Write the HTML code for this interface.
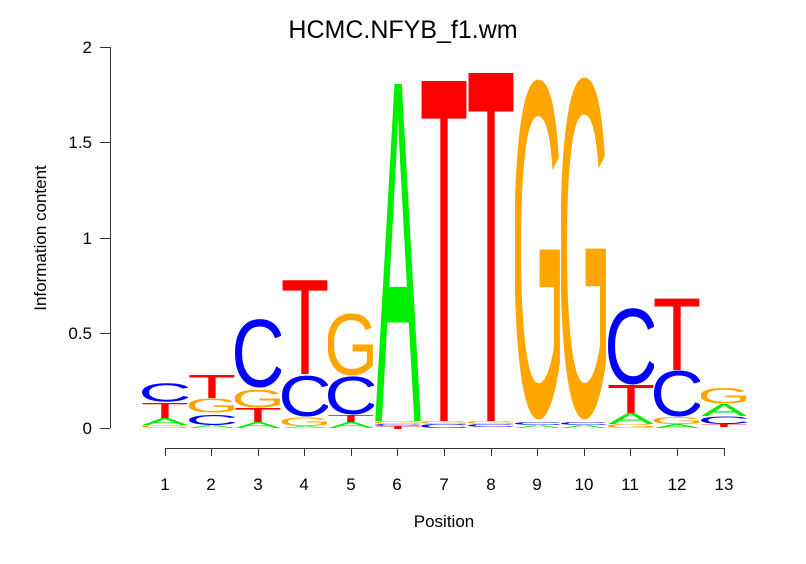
<!DOCTYPE html>
<html><head><meta charset="utf-8"><style>
body{margin:0;background:#fff}
text{font-family:"Liberation Sans",sans-serif}
.l text{font-weight:normal;font-size:100px;text-anchor:middle}
</style></head><body>
<svg width="806" height="559" viewBox="0 0 806 559" xmlns="http://www.w3.org/2000/svg">
<defs>
<symbol id="A" viewBox="-33.5 -69 67 69" preserveAspectRatio="none" class="l"><text x="0" y="0" fill="#00ee00">A</text></symbol>
<symbol id="C" viewBox="-31 -71 62 72.5" preserveAspectRatio="none" class="l"><text x="0" y="0" fill="#0000ff">C</text></symbol>
<symbol id="G" viewBox="-33 -71 66 72.5" preserveAspectRatio="none" class="l"><text x="0" y="0" fill="#ffa500">G</text></symbol>
<symbol id="T" viewBox="-29 -69 58 69" preserveAspectRatio="none" class="l"><text x="0" y="0" fill="#ff0000">T</text></symbol>
</defs>
<text x="403" y="38" font-size="25" text-anchor="middle">HCMC.NFYB_f1.wm</text>
<g stroke="#333" stroke-width="1" fill="none">
<path d="M110.5 47V428"/>
<path d="M100 428.5H110M100 333.5H110M100 238.5H110M100 142.5H110M100 47.5H110"/>
<path d="M165 448.5H724"/>
<path d="M165.5 448V456M211.5 448V456M258.5 448V456M304.5 448V456M351.5 448V456M397.5 448V456M444.5 448V456M491.5 448V456M537.5 448V456M584.5 448V456M630.5 448V456M677.5 448V456M724.5 448V456"/>
</g>
<g font-size="17" text-anchor="end">
<text x="92" y="434">0</text><text x="92" y="339">0.5</text><text x="92" y="244">1</text><text x="92" y="148">1.5</text><text x="92" y="53">2</text>
</g>
<text transform="translate(46,238) rotate(-90)" font-size="17" text-anchor="middle">Information content</text>
<g font-size="17" text-anchor="middle">
<text x="165" y="490">1</text><text x="211" y="490">2</text><text x="258" y="490">3</text><text x="304" y="490">4</text><text x="351" y="490">5</text><text x="397" y="490">6</text><text x="444" y="490">7</text><text x="491" y="490">8</text><text x="537" y="490">9</text><text x="584" y="490">10</text><text x="630" y="490">11</text><text x="677" y="490">12</text><text x="724" y="490">13</text>
</g>
<text x="444" y="527" font-size="17" text-anchor="middle">Position</text>
<use href="#G" x="142" y="425" width="46" height="3"/>
<use href="#A" x="142" y="418" width="46" height="7"/>
<use href="#T" x="142" y="403" width="46" height="15"/>
<use href="#C" x="142" y="383" width="46" height="19"/>
<use href="#A" x="189" y="425" width="46" height="3"/>
<use href="#C" x="189" y="414" width="46" height="11"/>
<use href="#G" x="189" y="398" width="46" height="15"/>
<use href="#T" x="189" y="375" width="46" height="23"/>
<use href="#A" x="235" y="422" width="46" height="6"/>
<use href="#T" x="235" y="408" width="46" height="14"/>
<use href="#G" x="235" y="390" width="46" height="18"/>
<use href="#C" x="235" y="318" width="46" height="70"/>
<use href="#A" x="282" y="426" width="46" height="2"/>
<use href="#G" x="282" y="417" width="46" height="9"/>
<use href="#C" x="282" y="375" width="46" height="42"/>
<use href="#T" x="282" y="280" width="46" height="94"/>
<use href="#A" x="328" y="422" width="46" height="6"/>
<use href="#T" x="328" y="415" width="46" height="7"/>
<use href="#C" x="328" y="376" width="46" height="39"/>
<use href="#G" x="328" y="313" width="46" height="63"/>
<use href="#T" x="375" y="426" width="46" height="3"/>
<use href="#C" x="375" y="424" width="46" height="2"/>
<use href="#G" x="375" y="421" width="46" height="3"/>
<use href="#A" x="375" y="83" width="46" height="338"/>
<use href="#C" x="421" y="424" width="46" height="4"/>
<use href="#G" x="421" y="421" width="46" height="3"/>
<use href="#T" x="421" y="80" width="46" height="341"/>
<use href="#C" x="468" y="424" width="46" height="3"/>
<use href="#G" x="468" y="421" width="46" height="3"/>
<use href="#T" x="468" y="72" width="46" height="349"/>
<use href="#A" x="515" y="425" width="46" height="3"/>
<use href="#C" x="515" y="422" width="46" height="3"/>
<use href="#G" x="515" y="74" width="46" height="348"/>
<use href="#A" x="561" y="425" width="46" height="3"/>
<use href="#C" x="561" y="422" width="46" height="3"/>
<use href="#G" x="561" y="72" width="46" height="350"/>
<use href="#G" x="608" y="424" width="46" height="4"/>
<use href="#A" x="608" y="413" width="46" height="11"/>
<use href="#T" x="608" y="385" width="46" height="28"/>
<use href="#C" x="608" y="307" width="46" height="78"/>
<use href="#A" x="654" y="424" width="46" height="4"/>
<use href="#G" x="654" y="417" width="46" height="7"/>
<use href="#C" x="654" y="370" width="46" height="47"/>
<use href="#T" x="654" y="298" width="46" height="72"/>
<use href="#T" x="701" y="424" width="46" height="3"/>
<use href="#C" x="701" y="416" width="46" height="8"/>
<use href="#A" x="701" y="404" width="46" height="12"/>
<use href="#G" x="701" y="388" width="46" height="16"/>
</svg>
</body></html>
